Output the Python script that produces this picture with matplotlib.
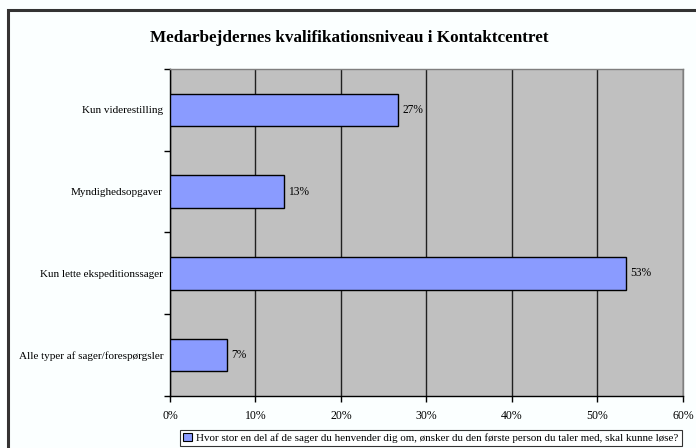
import matplotlib
matplotlib.use("Agg")
import matplotlib.pyplot as plt
from matplotlib.patches import Rectangle
import numpy as np

categories = ["Kun viderestilling", "Myndighedsopgaver", "Kun lette ekspeditionssager",
              "Alle typer af sager/forespørgsler"]
values = [26.7, 13.3, 53.3, 6.7]
value_labels = ["27%", "13%", "53%", "7%"]
xticks = [0, 10, 20, 30, 40, 50, 60]
xtick_labels = ["0%", "10%", "20%", "30%", "40%", "50%", "60%"]
title = "Medarbejdernes kvalifikationsniveau i Kontaktcentret"
legend_label = ("Hvor stor en del af de sager du henvender dig om, ønsker du den første "
                "person du taler med, skal kunne løse?")

bar_color = "#8A9BFF"
plt.rcParams['font.family'] = ['Liberation Serif', 'DejaVu Serif']

W, H = 696, 448
fig = plt.figure(figsize=(W / 100, H / 100), dpi=100)
fig.patch.set_facecolor("#FBFFFF")

# outer frame (only top/left visible in the crop)
fig.patches.append(Rectangle((8 / W, -0.1), 1.2, 1 - 10 / H + 0.1, transform=fig.transFigure,
                             fill=False, edgecolor="#333333", linewidth=2.2))

left, right, top, bottom = 170, 683, 69, 396
ax = fig.add_axes([left / W, 1 - bottom / H, (right - left) / W, (bottom - top) / H])
ax.set_facecolor("#C0C0C0")

n = len(categories)
pos = np.arange(n)[::-1] + 0.5  # top category at top
ax.barh(pos, values, height=0.4, color=bar_color, edgecolor="black", linewidth=1.0, zorder=3)
for p, v, lab in zip(pos, values, value_labels):
    ax.annotate(lab, (v, p), xytext=(3, 0), textcoords="offset points",
                va="center", ha="left", fontsize=8.3)

ax.set_xlim(0, 60)
ax.set_ylim(0, n)
ax.set_xticks(xticks)
ax.set_xticklabels(xtick_labels, fontsize=8.5)
ax.set_yticks(np.arange(n + 1))
ax.set_yticklabels([])
ax.set_yticks(pos, minor=True)
ax.set_yticklabels(categories, minor=True, fontsize=8.0)
ax.tick_params(axis='y', which='minor', length=0, pad=5)
ax.tick_params(axis='y', which='major', length=4, direction='out', width=1)
ax.tick_params(axis='x', length=4, direction='out', width=1, pad=6)
ax.xaxis.grid(True, color="#202020", linewidth=1.0, zorder=1)
ax.set_axisbelow(True)
for s in ['left', 'bottom']:
    ax.spines[s].set_color('black')
    ax.spines[s].set_linewidth(1.0)
for s in ['top', 'right']:
    ax.spines[s].set_color('#7F7F7F')
    ax.spines[s].set_linewidth(1.0)

fig.text(349 / W, 1 - 38 / H, title, ha='center', va='center', fontsize=12.3, fontweight='bold')

handle = Rectangle((0, 0), 1, 1, facecolor=bar_color, edgecolor='black', linewidth=0.8)
leg = fig.legend([handle], [legend_label], loc='center', bbox_to_anchor=(431 / W, 1 - 438 / H),
                 fontsize=7.9, frameon=True, fancybox=False, edgecolor='black',
                 handlelength=0.8, handleheight=0.8, handletextpad=0.4, borderpad=0.3,
                 borderaxespad=0)
leg.get_frame().set_linewidth(0.8)
leg.get_frame().set_facecolor('white')

fig.savefig("out.png", dpi=100, facecolor=fig.get_facecolor())
